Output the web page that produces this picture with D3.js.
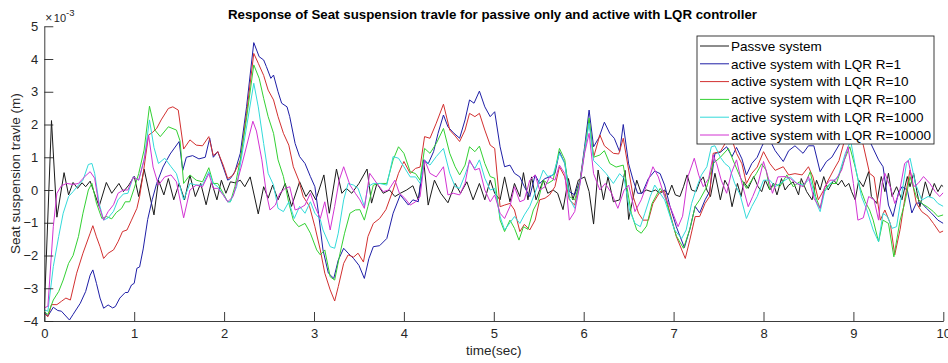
<!DOCTYPE html>
<html>
<head>
<meta charset="utf-8">
<script src="https://cdn.jsdelivr.net/npm/d3@7"></script>
<style>
body { margin: 0; background: #fff; }
text { font-family: Arial, "Liberation Sans", Helvetica, sans-serif; }
</style>
</head>
<body>
<div id="chart"></div>
<script>

// DATA - - - - - - - - - - - - - - - - - - - - - - - - - - - - - - - - - - - - - - - - - - - - -
// [time (sec), travel (x 1e-3 m)]
var passive = [
  [0,-3.7],[0.08,2.12],[0.14,-0.83],[0.22,0.53],[0.27,-0.15],[0.32,0.23],[0.37,0.05],[0.42,0.22],
  [0.46,0.1],[0.51,0.27],[0.61,-0.5],[0.69,0.23],[0.75,-0.1],[0.83,0.2],[0.88,-0.05],[0.94,0.15],
  [1.0,0.42],[1.05,-0.2],[1.11,0.64],[1.22,-0.76],[1.27,0.3],[1.33,-0.15],[1.38,0.35],[1.44,-0.3],
  [1.5,0.2],[1.56,-0.3],[1.62,0.45],[1.68,-0.2],[1.74,0.2],[1.8,-0.45],[1.86,0.25],[1.92,-0.3],
  [1.97,0.3],[2.02,-0.1],[2.07,0.25],[2.12,0.22],[2.18,0.3],[2.23,0.1],[2.29,0.4],[2.38,-0.73],
  [2.44,0.1],[2.49,-0.25],[2.54,0.15],[2.6,-0.3],[2.68,0.2],[2.75,-0.5],[2.84,0.25],[2.91,-0.2],
  [2.96,0.0],[3.02,-0.3],[3.11,0.46],[3.17,-0.71],[3.25,0.64],[3.31,-0.1],[3.36,0.05],[3.42,-0.1],
  [3.5,0.2],[3.59,0.64],[3.64,-0.4],[3.7,0.2],[3.77,-0.1],[3.84,0.0],[3.9,-0.2],[3.96,-0.1],
  [4.03,0.0],[4.1,0.13],[4.16,-0.3],[4.22,0.9],[4.27,-0.46],[4.34,0.3],[4.41,-0.1],[4.49,-0.39],
  [4.57,0.2],[4.63,-0.1],[4.7,0.25],[4.77,-0.3],[4.84,0.2],[4.9,-0.3],[4.96,0.3],[5.01,-0.1],
  [5.07,-0.3],[5.12,0.4],[5.18,-0.36],[5.23,0.2],[5.29,-0.2],[5.33,0.53],[5.38,-0.3],[5.42,0.4],
  [5.47,-0.3],[5.55,0.3],[5.6,-0.1],[5.66,0.0],[5.71,-0.1],[5.77,-0.6],[5.83,0.35],[5.88,-0.3],
  [5.94,0.3],[6.01,0.4],[6.06,-0.05],[6.11,-1.04],[6.16,0.61],[6.22,-0.3],[6.27,0.4],[6.33,-0.36],
  [6.4,-0.3],[6.46,0.6],[6.5,-0.9],[6.59,0.3],[6.64,-0.1],[6.7,0.0],[6.75,-0.05],[6.8,0.0],
  [6.85,-0.1],[6.9,0.0],[6.94,-0.15],[6.98,0.15],[7.02,-0.15],[7.07,-0.2],[7.11,0.1],[7.15,0.46],
  [7.2,0.0],[7.25,-0.05],[7.29,0.25],[7.33,0.4],[7.37,0.0],[7.41,-0.2],[7.46,0.51],[7.52,-0.3],
  [7.57,0.3],[7.61,0.1],[7.65,-0.51],[7.71,0.2],[7.75,-0.2],[7.78,0.25],[7.83,0.05],[7.89,0.41],
  [7.94,0.1],[7.98,-0.05],[8.02,0.3],[8.07,0.0],[8.11,0.2],[8.15,-0.15],[8.2,0.35],[8.24,0.0],
  [8.28,0.15],[8.33,0.25],[8.39,-0.15],[8.42,0.35],[8.48,-0.05],[8.54,-0.3],[8.59,0.3],[8.63,0.0],
  [8.67,0.41],[8.72,0.0],[8.78,0.3],[8.83,0.15],[8.87,0.3],[8.91,0.1],[8.95,0.2],[8.98,-0.05],
  [9.02,-0.3],[9.06,0.3],[9.11,0.1],[9.17,0.56],[9.2,-0.2],[9.26,-0.41],[9.31,0.41],[9.35,-0.05],
  [9.39,0.51],[9.43,-0.2],[9.48,0.1],[9.54,-0.3],[9.6,0.41],[9.63,0.1],[9.67,0.51],[9.71,-0.1],
  [9.74,-0.51],[9.8,0.25],[9.85,-0.2],[9.9,0.2],[9.94,-0.05],[9.98,0.15],[10,0.1]
]

var lqrR1 = [
  [0,-3.75],[0.04,-3.85],[0.1,-3.58],[0.15,-3.68],[0.19,-3.7],[0.28,-3.97],[0.32,-3.8],[0.4,-3.46],
  [0.46,-3.1],[0.51,-2.6],[0.54,-2.44],[0.58,-2.85],[0.62,-3.3],[0.66,-3.61],[0.71,-3.51],[0.76,-3.6],
  [0.79,-3.56],[0.84,-3.3],[0.9,-3.13],[0.93,-3.13],[0.97,-2.9],[1.0,-2.85],[1.03,-2.39],[1.06,-2.35],
  [1.1,-1.8],[1.15,-0.9],[1.2,-0.3],[1.25,0.2],[1.32,0.7],[1.4,1.1],[1.5,1.48],[1.54,0.6],
  [1.58,1.0],[1.65,1.05],[1.72,0.95],[1.79,1.0],[1.84,1.58],[1.88,1.0],[1.93,1.17],[1.99,0.7],
  [2.04,0.3],[2.07,0.35],[2.12,0.56],[2.18,1.12],[2.25,2.54],[2.33,4.5],[2.39,4.07],[2.44,3.97],
  [2.47,3.77],[2.52,3.41],[2.55,3.51],[2.6,3.0],[2.64,2.65],[2.7,2.54],[2.73,2.24],[2.79,1.42],
  [2.84,1.02],[2.9,0.81],[2.96,0.41],[3.01,0.1],[3.05,-0.71],[3.1,-1.83],[3.16,-2.54],[3.22,-2.7],
  [3.27,-2.14],[3.33,-1.78],[3.38,-1.93],[3.44,-2.09],[3.5,-2.3],[3.56,-2.7],[3.61,-2.1],[3.66,-1.73],
  [3.73,-1.7],[3.81,-1.48],[3.88,-0.71],[3.96,-0.15],[4.05,-0.46],[4.1,-0.3],[4.16,-0.36],[4.22,0.92],
  [4.27,0.8],[4.33,1.17],[4.38,1.73],[4.44,2.29],[4.49,1.93],[4.55,1.75],[4.62,1.58],[4.68,2.14],
  [4.73,2.75],[4.78,2.65],[4.84,3.02],[4.9,2.54],[4.96,2.24],[5.01,2.39],[5.07,1.32],[5.12,0.71],
  [5.18,0.76],[5.23,0.51],[5.29,0.4],[5.34,0.1],[5.4,-0.2],[5.46,0.46],[5.51,0.2],[5.57,0.35],
  [5.62,0.4],[5.68,0.5],[5.73,1.17],[5.79,0.81],[5.84,-0.05],[5.9,-0.15],[5.96,0.3],[6.01,1.32],
  [6.06,2.44],[6.11,1.32],[6.17,1.6],[6.23,2.07],[6.29,1.73],[6.34,1.58],[6.4,1.17],[6.44,2.0],
  [6.5,0.8],[6.55,0.3],[6.6,-0.1],[6.65,-0.1],[6.72,0.35],[6.79,0.58],[6.85,0.5],[6.9,0.15],
  [6.96,-0.5],[7.03,-1.12],[7.12,-1.76],[7.18,-1.2],[7.24,-0.5],[7.29,-0.7],[7.35,-0.3],[7.4,-0.05],
  [7.46,1.12],[7.52,1.15],[7.59,1.32],[7.65,1.02],[7.7,1.3],[7.76,0.95],[7.81,0.46],[7.87,0.81],
  [7.93,1.0],[7.98,1.32],[8.03,1.6],[8.07,1.53],[8.13,1.2],[8.22,0.87],[8.28,1.2],[8.35,1.35],
  [8.44,1.12],[8.5,1.35],[8.56,1.35],[8.63,0.56],[8.7,0.87],[8.76,1.0],[8.85,1.42],[8.92,2.0],
  [9.0,2.2],[9.1,1.8],[9.18,1.5],[9.28,0.92],[9.33,0.71],[9.39,-0.46],[9.44,-0.81],[9.5,-0.1],
  [9.54,0.1],[9.6,0.0],[9.65,-0.7],[9.7,-0.4],[9.76,-0.4],[9.81,-0.55],[9.87,-0.71],[9.94,-0.92],
  [10,-1.02]
]

var lqrR10 = [
  [0,-3.77],[0.04,-3.87],[0.08,-3.5],[0.14,-3.5],[0.19,-3.4],[0.24,-3.3],[0.29,-3.36],[0.36,-2.54],
  [0.43,-1.93],[0.51,-1.32],[0.54,-1.09],[0.58,-1.43],[0.62,-1.73],[0.66,-2.09],[0.71,-1.93],[0.77,-1.83],
  [0.82,-1.58],[0.87,-1.27],[0.92,-1.22],[0.97,-0.92],[1.03,-0.56],[1.06,-0.2],[1.1,0.5],[1.16,1.68],
  [1.2,1.75],[1.25,1.88],[1.3,2.14],[1.38,2.49],[1.43,2.54],[1.49,2.44],[1.55,1.25],[1.62,1.53],
  [1.69,1.37],[1.76,1.35],[1.83,1.63],[1.88,1.05],[1.93,1.17],[1.99,0.76],[2.04,0.35],[2.1,0.45],
  [2.18,0.9],[2.25,2.34],[2.33,4.17],[2.38,3.87],[2.44,3.5],[2.49,3.05],[2.55,2.75],[2.6,2.24],
  [2.66,1.73],[2.72,1.37],[2.77,0.71],[2.83,0.3],[2.88,-0.2],[2.95,-0.5],[3.01,-1.12],[3.07,-1.83],
  [3.12,-2.54],[3.18,-3.05],[3.23,-3.39],[3.27,-2.95],[3.33,-2.24],[3.38,-1.98],[3.44,-2.05],[3.49,-1.93],
  [3.55,-2.2],[3.6,-1.42],[3.66,-1.02],[3.73,-0.87],[3.8,-0.6],[3.88,0.0],[3.94,0.51],[4.0,0.87],
  [4.07,0.51],[4.13,0.66],[4.18,0.7],[4.23,1.63],[4.29,1.58],[4.36,2.04],[4.44,2.62],[4.51,1.83],
  [4.57,1.65],[4.62,1.48],[4.68,1.83],[4.73,2.34],[4.79,2.24],[4.84,2.34],[4.9,1.83],[4.96,1.37],
  [5.01,1.27],[5.07,-0.51],[5.12,-0.46],[5.18,-0.41],[5.23,-0.61],[5.29,-1.27],[5.34,-1.05],[5.4,-1.22],
  [5.46,-0.92],[5.51,-0.3],[5.57,-0.25],[5.62,-0.15],[5.68,0.1],[5.73,0.71],[5.79,0.4],[5.84,-0.3],
  [5.9,-0.46],[5.96,0.3],[6.01,1.2],[6.06,2.14],[6.11,1.0],[6.18,1.68],[6.23,1.35],[6.33,1.12],
  [6.39,1.1],[6.44,1.58],[6.5,0.61],[6.55,-0.2],[6.61,-0.71],[6.66,-0.92],[6.72,-0.92],[6.77,-0.41],
  [6.85,-0.05],[6.9,-0.05],[6.96,-0.71],[7.03,-1.42],[7.13,-2.09],[7.18,-1.53],[7.24,-0.81],[7.29,-0.81],
  [7.35,-0.41],[7.4,-0.2],[7.44,1.12],[7.52,1.17],[7.58,1.45],[7.65,1.53],[7.7,1.12],[7.76,0.8],
  [7.81,0.2],[7.87,0.51],[7.93,0.7],[8.0,1.17],[8.07,0.81],[8.13,0.6],[8.22,0.71],[8.28,0.46],
  [8.35,0.5],[8.43,0.46],[8.5,0.71],[8.55,0.4],[8.61,-0.3],[8.67,0.0],[8.72,0.3],[8.78,0.61],
  [8.84,0.9],[8.9,1.5],[8.98,2.0],[9.04,1.9],[9.11,1.37],[9.18,0.51],[9.23,0.4],[9.3,-0.92],
  [9.35,-0.61],[9.41,-1.02],[9.46,-1.98],[9.52,-1.2],[9.57,-0.3],[9.63,0.61],[9.7,-0.4],[9.76,-0.66],
  [9.83,-0.8],[9.89,-1.02],[9.96,-1.3],[10,-1.25]
]

var lqrR100 = [
  [0,-3.72],[0.04,-3.8],[0.1,-3.36],[0.16,-3.1],[0.21,-2.75],[0.27,-2.24],[0.32,-2.0],[0.38,-1.42],
  [0.43,-0.71],[0.49,0.0],[0.53,0.2],[0.58,-0.4],[0.64,-0.87],[0.69,-0.81],[0.75,-0.88],[0.8,-0.69],
  [0.86,-0.56],[0.9,-0.36],[0.95,-0.36],[1.0,0.05],[1.05,0.5],[1.11,1.22],[1.17,2.56],[1.23,1.83],
  [1.29,1.63],[1.38,1.93],[1.47,1.83],[1.51,1.5],[1.55,0.2],[1.62,0.46],[1.69,0.3],[1.76,0.25],
  [1.83,0.68],[1.88,0.2],[1.93,0.2],[1.99,-0.1],[2.04,-0.36],[2.07,-0.36],[2.12,0.1],[2.18,0.92],
  [2.25,2.2],[2.33,3.82],[2.39,3.41],[2.44,2.8],[2.49,2.24],[2.55,1.73],[2.6,0.92],[2.66,0.41],
  [2.72,-0.4],[2.77,-0.92],[2.83,-1.12],[2.9,-1.02],[2.96,-1.32],[3.03,-1.83],[3.07,-1.98],[3.12,-1.83],
  [3.18,-2.65],[3.23,-2.75],[3.29,-1.93],[3.34,-1.32],[3.4,-0.71],[3.46,-0.61],[3.51,-0.6],[3.56,-0.92],
  [3.6,-0.5],[3.66,0.15],[3.73,0.2],[3.81,0.2],[3.88,0.92],[3.94,1.32],[4.0,1.12],[4.07,0.56],
  [4.13,0.5],[4.18,0.3],[4.23,1.27],[4.29,1.12],[4.36,1.42],[4.44,1.88],[4.51,1.12],[4.57,0.71],
  [4.62,0.46],[4.68,0.76],[4.73,1.32],[4.79,1.17],[4.84,1.34],[4.9,0.81],[4.96,0.41],[5.01,0.36],
  [5.07,-0.92],[5.12,-1.27],[5.18,-0.92],[5.23,-1.17],[5.28,-1.53],[5.33,-1.12],[5.38,-1.2],[5.44,-0.61],
  [5.49,-0.35],[5.55,0.3],[5.6,0.2],[5.66,0.3],[5.73,1.27],[5.79,0.92],[5.84,-0.2],[5.9,-0.3],
  [5.96,0.25],[6.01,1.2],[6.06,2.2],[6.11,1.0],[6.18,1.07],[6.23,1.2],[6.29,0.81],[6.36,0.7],
  [6.44,0.76],[6.53,-0.71],[6.59,-1.22],[6.64,-1.32],[6.7,-1.1],[6.76,-0.41],[6.85,0.05],[6.9,-0.15],
  [6.96,-0.76],[7.03,-1.4],[7.11,-1.78],[7.18,-1.2],[7.24,-0.5],[7.29,-0.3],[7.37,0.1],[7.44,0.81],
  [7.52,1.0],[7.61,1.27],[7.66,0.92],[7.74,0.4],[7.81,0.05],[7.87,0.3],[7.92,0.5],[7.98,0.8],
  [8.03,0.6],[8.07,0.0],[8.13,0.2],[8.18,0.1],[8.26,0.46],[8.33,0.1],[8.4,0.25],[8.45,0.1],
  [8.52,0.56],[8.58,-0.2],[8.63,-0.56],[8.68,0.0],[8.74,0.2],[8.81,0.2],[8.9,0.92],[8.96,1.32],
  [9.02,0.7],[9.07,0.1],[9.13,-0.35],[9.18,-0.61],[9.22,-0.92],[9.28,-1.58],[9.33,-0.92],[9.39,-1.02],
  [9.45,-2.04],[9.52,-0.92],[9.57,-0.41],[9.63,0.41],[9.7,-0.2],[9.76,-0.41],[9.82,-0.51],[9.89,-0.66],
  [9.94,-0.81],[10,-0.76]
]

var lqrR1000 = [
  [0,-3.66],[0.04,-3.7],[0.1,-2.34],[0.16,-1.42],[0.21,-0.71],[0.27,-0.2],[0.32,-0.05],[0.38,0.15],
  [0.43,0.3],[0.49,0.78],[0.53,0.81],[0.56,0.51],[0.61,-0.41],[0.66,-0.92],[0.71,-0.85],[0.77,-0.65],
  [0.82,-0.3],[0.88,-0.12],[0.93,-0.1],[0.99,0.41],[1.05,0.3],[1.11,0.92],[1.17,2.14],[1.22,1.3],
  [1.27,0.81],[1.34,0.97],[1.41,0.71],[1.47,0.5],[1.55,-0.3],[1.62,0.2],[1.69,0.15],[1.76,0.15],
  [1.83,0.56],[1.88,0.2],[1.93,0.1],[1.99,-0.15],[2.04,-0.36],[2.07,-0.36],[2.14,0.1],[2.2,1.1],
  [2.33,3.26],[2.38,2.54],[2.44,1.42],[2.49,0.51],[2.55,0.15],[2.6,-0.56],[2.66,-0.66],[2.72,-0.36],
  [2.78,-0.87],[2.84,-0.5],[2.9,-0.71],[2.96,-0.36],[3.01,-0.71],[3.07,-0.9],[3.1,-1.22],[3.18,-1.73],
  [3.23,-1.78],[3.27,-1.32],[3.33,-0.3],[3.38,0.2],[3.44,0.15],[3.49,0.05],[3.56,-0.5],[3.6,0.1],
  [3.66,0.2],[3.73,0.2],[3.81,0.15],[3.88,1.02],[3.94,0.97],[4.0,0.71],[4.07,0.4],[4.13,0.4],
  [4.18,0.2],[4.23,0.92],[4.29,0.76],[4.36,1.02],[4.44,1.27],[4.51,0.51],[4.57,0.1],[4.62,0.05],
  [4.68,0.46],[4.73,0.87],[4.79,0.66],[4.84,0.92],[4.9,0.36],[4.96,0.0],[5.01,0.05],[5.07,-0.81],
  [5.12,-1.22],[5.18,-1.0],[5.23,-0.81],[5.29,-1.02],[5.34,-0.76],[5.4,-0.5],[5.47,0.0],[5.55,0.61],
  [5.6,0.41],[5.66,0.46],[5.73,1.12],[5.79,0.81],[5.84,-0.25],[5.9,-0.56],[5.96,0.2],[6.01,1.2],
  [6.06,2.04],[6.11,0.9],[6.18,0.71],[6.25,0.5],[6.33,0.2],[6.4,0.5],[6.45,0.35],[6.51,-0.61],
  [6.57,-1.02],[6.63,-1.12],[6.68,-0.71],[6.74,-0.2],[6.79,0.15],[6.85,-0.1],[6.9,-0.3],[6.96,-0.8],
  [7.01,-1.22],[7.09,-1.48],[7.14,-1.22],[7.2,-0.41],[7.26,0.1],[7.31,0.46],[7.37,0.71],[7.42,1.32],
  [7.46,1.35],[7.52,1.0],[7.57,0.81],[7.62,0.7],[7.68,0.2],[7.74,-0.15],[7.81,-0.87],[7.87,-0.5],
  [7.93,-0.2],[8.0,0.3],[8.07,0.3],[8.13,0.1],[8.24,0.3],[8.3,0.4],[8.37,0.2],[8.44,0.15],
  [8.52,0.35],[8.59,-0.41],[8.63,-0.66],[8.68,-0.05],[8.76,0.25],[8.83,0.4],[8.91,1.12],[8.97,1.5],
  [9.03,0.6],[9.09,-0.2],[9.15,-0.61],[9.22,-1.22],[9.28,-1.58],[9.33,-0.71],[9.38,-0.82],[9.43,-1.17],
  [9.48,-1.12],[9.54,-0.1],[9.59,0.81],[9.63,0.97],[9.69,0.2],[9.76,-0.31],[9.83,-0.2],[9.89,-0.25],
  [9.94,-0.41],[10,-0.5]
]

var lqrR10000 = [
  [0,-3.6],[0.04,-3.55],[0.1,-1.12],[0.14,-0.1],[0.19,0.13],[0.25,0.2],[0.32,0.17],[0.38,0.2],
  [0.45,0.41],[0.51,0.56],[0.56,0.36],[0.61,-0.5],[0.66,-0.92],[0.71,-0.66],[0.77,-0.45],[0.82,-0.1],
  [0.88,0.0],[0.93,0.0],[0.99,0.4],[1.05,0.3],[1.11,0.92],[1.16,1.68],[1.21,0.7],[1.27,0.15],
  [1.34,0.4],[1.41,0.46],[1.47,0.25],[1.55,-0.85],[1.62,0.0],[1.69,0.15],[1.76,0.1],[1.83,0.5],
  [1.88,0.05],[1.93,0.05],[1.99,-0.15],[2.04,-0.36],[2.1,-0.2],[2.2,0.8],[2.32,2.1],[2.36,1.8],
  [2.42,0.92],[2.47,-0.1],[2.51,-0.61],[2.57,-0.46],[2.62,-0.1],[2.68,0.05],[2.73,0.1],[2.79,-0.61],
  [2.84,-0.56],[2.9,-0.46],[2.96,-0.1],[3.01,-0.5],[3.07,-0.87],[3.12,-0.36],[3.18,-1.22],[3.23,-0.5],
  [3.28,0.3],[3.33,0.71],[3.4,0.15],[3.46,-0.1],[3.51,-0.3],[3.56,-0.56],[3.62,0.51],[3.7,0.2],
  [3.77,-0.05],[3.83,0.0],[3.9,0.3],[3.95,-0.1],[4.01,-0.25],[4.07,-0.46],[4.13,-0.36],[4.18,-0.2],
  [4.23,0.92],[4.29,0.51],[4.36,0.4],[4.44,0.71],[4.49,-0.15],[4.55,-0.1],[4.62,-0.15],[4.68,0.2],
  [4.73,0.92],[4.79,0.61],[4.84,0.66],[4.9,0.0],[4.96,-0.36],[5.01,-0.15],[5.07,-0.71],[5.12,-0.87],
  [5.18,-0.5],[5.23,0.1],[5.29,-0.36],[5.34,-0.3],[5.4,0.3],[5.46,0.46],[5.51,0.0],[5.57,0.1],
  [5.62,0.4],[5.68,0.3],[5.73,0.76],[5.79,0.5],[5.84,-0.92],[5.9,-0.66],[5.96,0.2],[6.01,1.12],
  [6.06,1.73],[6.11,0.5],[6.18,0.0],[6.24,0.2],[6.31,-0.1],[6.38,-0.56],[6.45,0.0],[6.5,0.15],
  [6.57,-0.66],[6.64,-0.3],[6.72,0.3],[6.77,0.71],[6.83,0.4],[6.9,-0.2],[6.96,-0.5],[7.05,-1.12],
  [7.1,-0.8],[7.16,0.41],[7.23,0.97],[7.28,0.45],[7.33,0.1],[7.39,0.35],[7.44,1.07],[7.48,0.8],
  [7.53,0.3],[7.59,-0.1],[7.64,0.5],[7.7,0.92],[7.76,0.2],[7.83,-0.51],[7.88,-0.2],[7.94,0.2],
  [8.0,0.87],[8.05,0.4],[8.1,-0.1],[8.16,0.4],[8.24,0.41],[8.3,0.35],[8.37,0.2],[8.44,0.1],
  [8.5,0.41],[8.56,-0.25],[8.63,-0.56],[8.68,0.1],[8.74,0.3],[8.8,0.3],[8.87,0.61],[8.94,1.32],
  [9.0,0.2],[9.05,-0.92],[9.11,-0.85],[9.17,-0.2],[9.23,-0.3],[9.28,-0.92],[9.32,0.2],[9.35,0.51],
  [9.41,0.1],[9.46,-0.41],[9.51,-0.1],[9.57,0.81],[9.61,0.9],[9.67,0.1],[9.72,0.2],[9.78,0.41],
  [9.85,0.2],[9.91,-0.05],[9.96,-0.2],[10,-0.08]
]

var seriesNames = ["Passve system", "active system with LQR R=1", "active system with LQR R=10",
                   "active system with LQR R=100", "active system with LQR R=1000",
                   "active system with LQR R=10000"]
var xTicks = [0, 1, 2, 3, 4, 5, 6, 7, 8, 9, 10]
var yTicks = [-4, -3, -2, -1, 0, 1, 2, 3, 4, 5]

// SVG Canvas - - - - - - - - - - - - - - - - - - - - - - - - - - - - - - - - - - - - - - - - - -
var margin = {top: 26.25, right: 4.7, bottom: 42, left: 44.3}
var svgWidth = 948
  , svgHeight = 363
  , width = svgWidth - margin.left - margin.right
  , height = svgHeight - margin.top - margin.bottom
  , axisColor = "#262626"

var lineColors = ["#1a1a1a", "#1f1fa6", "#d23030", "#33d033", "#33dada", "#d233d2"]

var svg = d3.select("#chart").append("svg")
    .attr("width", svgWidth)
    .attr("height", svgHeight)
    .style("display", "block")

svg.append("rect")
    .attr("width", svgWidth)
    .attr("height", svgHeight)
    .attr("fill", "#fff")

var chart = svg.append("g")
    .attr("transform", "translate(" + margin.left + "," + margin.top + ")")

var x = d3.scaleLinear().domain([0, 10]).range([0, width])
var y = d3.scaleLinear().domain([-4, 5]).range([height, 0])

// Lines  - - - - - - - - - - - - - - - - - - - - - - - - - - - - - - - - - - - - - - - - - - - -
chart.append("clipPath").attr("id", "plotClip")
  .append("rect")
    .attr("width", width)
    .attr("height", height)

var line = d3.line()
    .x(function(d) { return x(d[0]) })
    .y(function(d) { return y(d[1]) })

var allSeries = [passive, lqrR1, lqrR10, lqrR100, lqrR1000, lqrR10000]

chart.append("g")
    .attr("clip-path", "url(#plotClip)")
  .selectAll("path")
    .data(allSeries)
  .enter().append("path")
    .attr("d", line)
    .attr("fill", "none")
    .attr("stroke", function(d, i) { return lineColors[i] })
    .attr("stroke-width", 1)
    .attr("stroke-linejoin", "round")

// Axes - - - - - - - - - - - - - - - - - - - - - - - - - - - - - - - - - - - - - - - - - - - - -
var xAxis = chart.append("g")
    .attr("transform", "translate(0," + height + ")")
    .call(d3.axisBottom(x).tickValues(xTicks).tickFormat(d3.format("d"))
        .tickSizeInner(-9).tickSizeOuter(0).tickPadding(8))

var yAxis = chart.append("g")
    .call(d3.axisLeft(y).tickValues(yTicks).tickFormat(d3.format("d"))
        .tickSizeInner(-9).tickSizeOuter(0).tickPadding(6))

chart.selectAll(".domain, .tick line").attr("stroke", axisColor).attr("stroke-width", 0.9)
chart.selectAll(".tick text")
    .attr("fill", axisColor)
    .attr("font-size", 13)
    .attr("font-family", "Arial, 'Liberation Sans', sans-serif")

// exponent label at top of y axis
var expLabel = svg.append("text")
    .attr("x", margin.left + 1)
    .attr("y", 21.5)
    .attr("fill", axisColor)
expLabel.append("tspan").attr("font-size", 12).text("\u00d7")
expLabel.append("tspan").attr("font-size", 11).attr("dx", 1.5).text("10")
expLabel.append("tspan").attr("font-size", 9.5).attr("dy", -6).text("-3")

// Labels - - - - - - - - - - - - - - - - - - - - - - - - - - - - - - - - - - - - - - - - - - - -
svg.append("text")
    .attr("x", 492.5)
    .attr("y", 19)
    .attr("text-anchor", "middle")
    .attr("font-weight", "bold")
    .attr("font-size", 13.3)
    .attr("fill", "#000")
    .text("Response of Seat suspension travle for passive only and active with LQR controller")

svg.append("text")
    .attr("x", margin.left + width / 2)
    .attr("y", 355)
    .attr("text-anchor", "middle")
    .attr("font-size", 13.5)
    .attr("fill", axisColor)
    .text("time(sec)")

svg.append("text")
    .attr("transform", "translate(20," + (margin.top + y(0.5)) + ") rotate(-90)")
    .attr("text-anchor", "middle")
    .attr("font-size", 13.5)
    .attr("fill", axisColor)
    .text("Seat suspension travle (m)")

// Legend - - - - - - - - - - - - - - - - - - - - - - - - - - - - - - - - - - - - - - - - - - - -
var legend = svg.append("g").attr("transform", "translate(697,36)")

legend.append("rect")
    .attr("width", 237)
    .attr("height", 108)
    .attr("fill", "#fff")
    .attr("stroke", axisColor)
    .attr("stroke-width", 0.9)

var rows = legend.selectAll(".row")
    .data(seriesNames)
  .enter().append("g")
    .attr("class", "row")
    .attr("transform", function(d, i) { return "translate(0," + (10 + i * 17.8) + ")" })

rows.append("line")
    .attr("x1", 3).attr("x2", 32)
    .attr("stroke", function(d, i) { return lineColors[i] })
    .attr("stroke-width", 1)

rows.append("text")
    .attr("x", 34)
    .attr("dy", "0.35em")
    .attr("font-size", 13.5)
    .attr("fill", "#000")
    .text(function(d) { return d })

</script>
</body>
</html>
